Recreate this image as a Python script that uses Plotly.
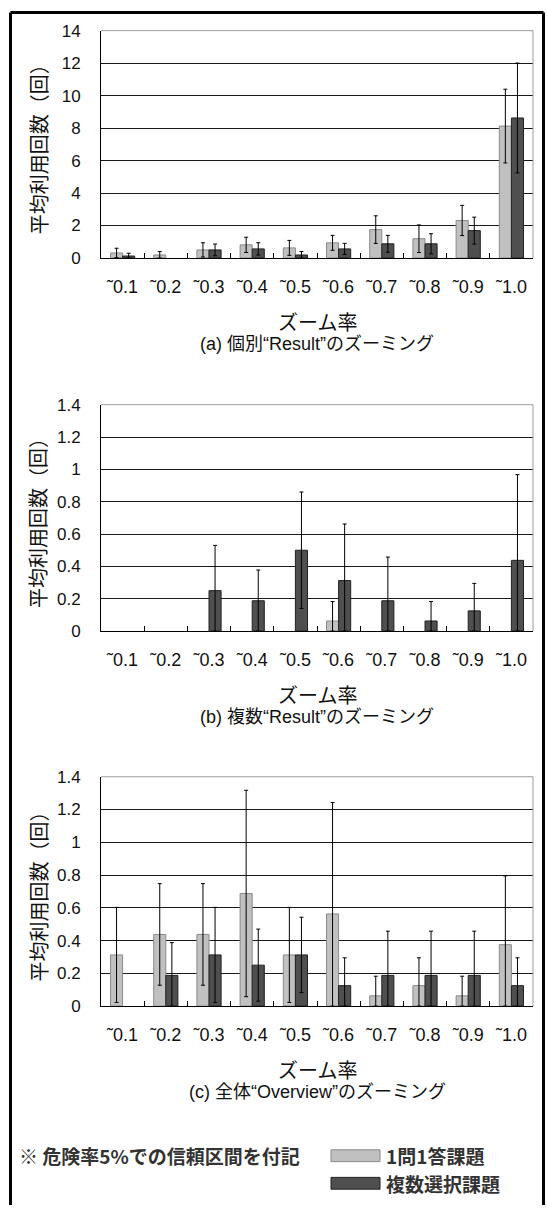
import plotly.graph_objects as go

W, H = 547, 1211

categories = ["˜0.1", "˜0.2", "˜0.3", "˜0.4", "˜0.5", "˜0.6", "˜0.7", "˜0.8", "˜0.9", "˜1.0"]
series_names = ["1問1答課題", "複数選択課題"]

# (a) 個別 "Result" のズーミング
a_single = [0.3125, 0.1875, 0.5, 0.8125, 0.625, 0.9375, 1.75, 1.1875, 2.3125, 8.125]
a_single_ci = [0.29, 0.21, 0.44, 0.47, 0.46, 0.46, 0.85, 0.85, 0.93, 2.27]
a_multi = [0.125, 0.0, 0.5, 0.5625, 0.1875, 0.5625, 0.875, 0.875, 1.6875, 8.625]
a_multi_ci = [0.17, 0.0, 0.36, 0.38, 0.21, 0.34, 0.52, 0.62, 0.83, 3.38]

# (b) 複数 "Result" のズーミング
b_single = [0, 0, 0, 0, 0, 0.0625, 0, 0, 0, 0]
b_single_ci = [0, 0, 0, 0, 0, 0.12, 0, 0, 0, 0]
b_multi = [0, 0, 0.25, 0.1875, 0.5, 0.3125, 0.1875, 0.0625, 0.125, 0.4375]
b_multi_ci = [0, 0, 0.28, 0.19, 0.36, 0.35, 0.27, 0.12, 0.17, 0.53]

# (c) 全体 "Overview" のズーミング
c_single = [0.3125, 0.4375, 0.4375, 0.6875, 0.3125, 0.5625, 0.0625, 0.125, 0.0625, 0.375]
c_single_ci = [0.29, 0.31, 0.31, 0.63, 0.29, 0.68, 0.12, 0.17, 0.12, 0.42]
c_multi = [0, 0.1875, 0.3125, 0.25, 0.3125, 0.125, 0.1875, 0.1875, 0.1875, 0.125]
c_multi_ci = [0, 0.2, 0.29, 0.22, 0.23, 0.17, 0.27, 0.27, 0.27, 0.17]

y_ranges = [(0, 14, 2), (0, 1.4, 0.2), (0, 1.4, 0.2)]
y_ticklabels = [
    ["0", "2", "4", "6", "8", "10", "12", "14"],
    ["0", "0.2", "0.4", "0.6", "0.8", "1", "1.2", "1.4"],
    ["0", "0.2", "0.4", "0.6", "0.8", "1", "1.2", "1.4"],
]
captions = ["(a) 個別“Result”のズーミング", "(b) 複数“Result”のズーミング", "(c) 全体“Overview”のズーミング"]
x_title = "ズーム率"
y_title = "平均利用回数（回）"
note = "※ 危険率5%での信頼区間を付記"

panels = [
    (a_single, a_single_ci, a_multi, a_multi_ci),
    (b_single, b_single_ci, b_multi, b_multi_ci),
    (c_single, c_single_ci, c_multi, c_multi_ci),
]

LIGHT, LIGHT_EDGE = "#c0c0c0", "#8a8a8a"
DARK, DARK_EDGE = "#4f4f4f", "#222222"
FONT = "Liberation Sans, Arial, Noto Sans CJK JP, sans-serif"
JFONT = "Noto Sans CJK JP, sans-serif"

# plot area pixel boxes (top, bottom)
boxes = [(22, 253), (402, 632), (780, 1013)]
x0_px, x1_px = 101, 533


def py(v):
    return 1 - v / H


def px(v):
    return v / W


fig = go.Figure()
layout = dict(
    width=W, height=H,
    margin=dict(l=0, r=0, t=0, b=0),
    paper_bgcolor="white", plot_bgcolor="white",
    barmode="group", bargap=0.44, bargroupgap=0.0,
    showlegend=False,
    font=dict(family=FONT, color="#111111"),
)
annotations = []
shapes = []

for i, (s, s_ci, m, m_ci) in enumerate(panels):
    n = "" if i == 0 else str(i + 1)
    xa, ya = "x" + n, "y" + n
    for vals, ci, fill, edge, name in [
        (s, s_ci, LIGHT, LIGHT_EDGE, series_names[0]),
        (m, m_ci, DARK, DARK_EDGE, series_names[1]),
    ]:
        # empty cells (zero mean, zero interval) are left blank, as in the original
        shown = [v if (v > 0 or e > 0) else None for v, e in zip(vals, ci)]
        fig.add_trace(go.Bar(
            x=categories, y=shown, name=name, xaxis=xa, yaxis=ya,
            marker=dict(color=fill, line=dict(color=edge, width=1)),
            error_y=dict(type="data", array=ci,
                         arrayminus=[min(e, v) for e, v in zip(ci, vals)],
                         color="#000000", thickness=1, width=2),
        ))
    top, bot = boxes[i]
    lo, hi, step = y_ranges[i]
    layout["xaxis" + n] = dict(
        domain=[px(x0_px), px(x1_px)], anchor=ya,
        type="category", tickson="boundaries", ticks="inside", ticklen=5,
        tickcolor="#000000", showline=True, linecolor="#000000", linewidth=1,
        tickfont=dict(size=18, family=FONT, color="#111111"),
        ticklabelstandoff=12, showgrid=False,
    )
    layout["yaxis" + n] = dict(
        domain=[py(bot), py(top)], anchor=xa,
        range=[lo, hi], tickvals=[lo + k * step for k in range(8)],
        ticktext=y_ticklabels[i],
        showgrid=True, gridcolor="#1a1a1a", gridwidth=1,
        showline=True, linecolor="#000000", linewidth=1,
        ticks="", ticklabelstandoff=16,
        tickfont=dict(size=17, family=FONT, color="#111111"),
        zeroline=False,
    )
    # gray top/right frame edges
    shapes.append(dict(type="line", xref="paper", yref="paper", layer="above",
                       x0=px(x0_px), x1=px(x1_px), y0=py(top), y1=py(top),
                       line=dict(color="#9a9a9a", width=1)))
    shapes.append(dict(type="line", xref="paper", yref="paper", layer="above",
                       x0=px(x1_px), x1=px(x1_px), y0=py(top), y1=py(bot),
                       line=dict(color="#9a9a9a", width=1)))
    cx = px((x0_px + x1_px) / 2)
    annotations.append(dict(text=y_title, textangle=-90, xref="paper", yref="paper",
                            x=px(38), y=py((top + bot) / 2), showarrow=False,
                            xanchor="center", yanchor="middle",
                            font=dict(size=20, family=JFONT, color="#111111")))
    annotations.append(dict(text=x_title, xref="paper", yref="paper",
                            x=cx, y=py(bot + 64), showarrow=False,
                            xanchor="center", yanchor="middle",
                            font=dict(size=20, family=JFONT, color="#111111")))
    annotations.append(dict(text=captions[i], xref="paper", yref="paper",
                            x=cx, y=py(bot + 87), showarrow=False,
                            xanchor="center", yanchor="middle",
                            font=dict(size=18, family=FONT, color="#111111")))

# footnote and legend
annotations.append(dict(text="<b>" + note + "</b>", xref="paper", yref="paper",
                        x=px(17), y=py(1165), showarrow=False,
                        xanchor="left", yanchor="middle",
                        font=dict(size=19, family=JFONT, color="#333333")))
for k, (fill, edge) in enumerate([(LIGHT, LIGHT_EDGE), (DARK, DARK_EDGE)]):
    yc = 1165 + 28 * k
    shapes.append(dict(type="rect", xref="paper", yref="paper",
                       x0=px(331), x1=px(380), y0=py(yc - 6), y1=py(yc + 6),
                       fillcolor=fill, line=dict(color=edge, width=1)))
    annotations.append(dict(text="<b>" + series_names[k] + "</b>", xref="paper", yref="paper",
                            x=px(384), y=py(yc), showarrow=False,
                            xanchor="left", yanchor="middle",
                            font=dict(size=19, family=JFONT, color="#333333")))

# outer frame (left, top, right)
for (xa_, ya_, xb_, yb_) in [(10.5, 3.5, 10.5, 1215), (10.5, 3.5, 543.5, 3.5), (543.5, 3.5, 543.5, 1215)]:
    shapes.append(dict(type="line", xref="paper", yref="paper",
                       x0=px(xa_), y0=py(ya_), x1=px(xb_), y1=py(yb_),
                       line=dict(color="#000000", width=3)))

layout["annotations"] = annotations
layout["shapes"] = shapes
fig.update_layout(**layout)
fig.write_html("out.html", config={"displayModeBar": False},
               post_script="document.body.style.margin='0px';")
